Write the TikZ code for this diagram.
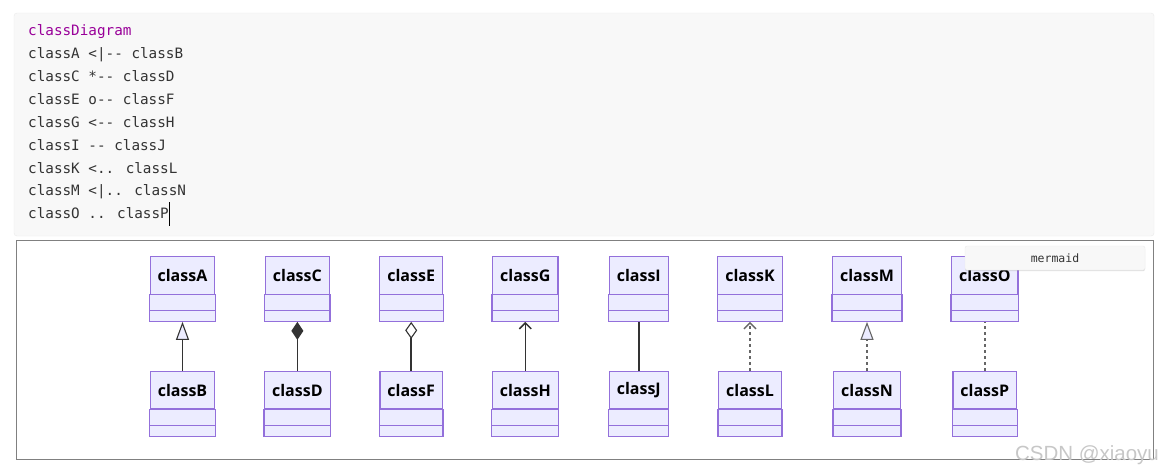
\documentclass[tikz,border=0pt]{standalone}
\usepackage{fontspec}
\setmainfont{Open Sans}
\newfontfamily\codefont{DejaVu Sans Mono}
\newfontfamily\markfont{Liberation Sans}
\usepackage{tikz}
\usetikzlibrary{arrows.meta,shadows}
\definecolor{classfill}{HTML}{ECECFF}
\definecolor{classdraw}{HTML}{9370DB}
\definecolor{linecol}{HTML}{333333}
\definecolor{dashcol}{HTML}{666666}
\definecolor{codebg}{HTML}{F8F8F8}
\definecolor{codeborder}{HTML}{EBEBEB}
\definecolor{keyword}{HTML}{990099}
\definecolor{frame}{HTML}{808080}
% one class box: header with the name, then two empty compartments
\newcommand{\umlclass}[3]{%
    \node[classhead] (#1) at (#2,#3) {class#1};
    \draw[classline] (#1.south west) rectangle ([yshift=-16pt]#1.south east);
    \draw[classline] ([yshift=-16pt]#1.south west) rectangle ([yshift=-27pt]#1.south east);
    \coordinate (#1-bot) at ([yshift=-27pt]#1.south);
}

\begin{document}
\begin{tikzpicture}[x=1pt, y=-1pt,
        classhead/.style={rectangle, draw=classdraw, fill=classfill, line width=1.2pt,
            minimum height=37.5pt, inner xsep=7.5pt, inner ysep=0pt,
            font=\bfseries\fontsize{16}{19}\selectfont},
        classline/.style={draw=classdraw, fill=classfill, line width=1.2pt},
        codeline/.style={anchor=mid west, inner sep=0pt, text=linecol,
            font=\codefont\fontsize{14.3}{17}\selectfont},
        extends/.style={draw=linecol, line width=1.5pt,
            -{Triangle[length=18pt, width=13pt, fill=classfill, line width=1.1pt]}},
        composition/.style={draw=linecol, line width=1.5pt,
            -{Diamond[length=18pt, width=12pt, fill=linecol]}},
        aggregation/.style={draw=linecol, line width=1.5pt,
            -{Diamond[length=17pt, width=12pt, fill=white, line width=1.1pt]}},
        assoc/.style={draw=linecol, line width=1.5pt,
            -{Straight Barb[length=6pt, width=12pt, line width=1.5pt]}},
        solidlink/.style={draw=linecol, line width=1.5pt},
        depends/.style={draw=dashcol, line width=1.5pt, dash pattern=on 3pt off 3pt,
            -{Straight Barb[length=6pt, width=12pt, line width=1.5pt]}},
        realizes/.style={draw=dashcol, line width=1.5pt, dash pattern=on 3pt off 3pt,
            -{Triangle[length=18pt, width=13pt, fill=classfill, line width=1.1pt]}},
        dottedlink/.style={draw=dashcol, line width=1.5pt, dash pattern=on 3pt off 3pt}]
    \useasboundingbox (0,0) rectangle (1171,475);
    \fill[white] (0,0) rectangle (1171,475);

    % code panel
    \filldraw[fill=codebg, draw=codeborder, rounded corners=3pt] (14,13) rectangle (1154,236);
    \node[codeline, text=keyword] (code0) at (28,33.3) {classDiagram};
    \foreach \txt [count=\i] in {classA <|-{}- classB, classC *-{}- classD,
            classE o-{}- classF, classG <-{}- classH, classI -{}- classJ,
            classK <.. classL, classM <|.. classN, classO .. classP}
        \node[codeline] (code\i) at (28,33.3+22.84*\i) {\txt};
    % cursor
    \draw[black, line width=1.3pt] ([xshift=0.5pt, yshift=11pt]code8.east)
        -- ([xshift=0.5pt, yshift=-12.5pt]code8.east);

    % diagram frame
    \draw[frame, line width=1pt] (16,240) rectangle (1153,459.5);

    % classes and their relations
    \foreach \up/\dn/\x/\rel in {A/B/182.5/extends, C/D/297.4/composition,
            E/F/411.2/aggregation, G/H/525.3/assoc, I/J/638.8/solidlink,
            K/L/750/depends, M/N/867/realizes, O/P/984.8/dottedlink} {
        \umlclass{\up}{\x}{275.5}
        \umlclass{\dn}{\x}{390}
        \draw[\rel] (\dn.north) -- (\up-bot);
    }

    % mermaid tag
    \node[draw=codeborder, fill=codebg, rounded corners=2pt, minimum width=180pt,
        minimum height=24pt, text=linecol, font=\codefont\fontsize{11.5}{14}\selectfont,
        drop shadow={opacity=0.25, shadow xshift=0pt, shadow yshift=-1.2pt}]
        (mermaid) at (1055,258) {mermaid};

    % watermark
    \node[text=black!22, font=\markfont\fontsize{20.5}{24}\selectfont, inner sep=0pt]
        (mark) at (1087,455) {CSDN @xiaoyu};
\end{tikzpicture}
\end{document}
